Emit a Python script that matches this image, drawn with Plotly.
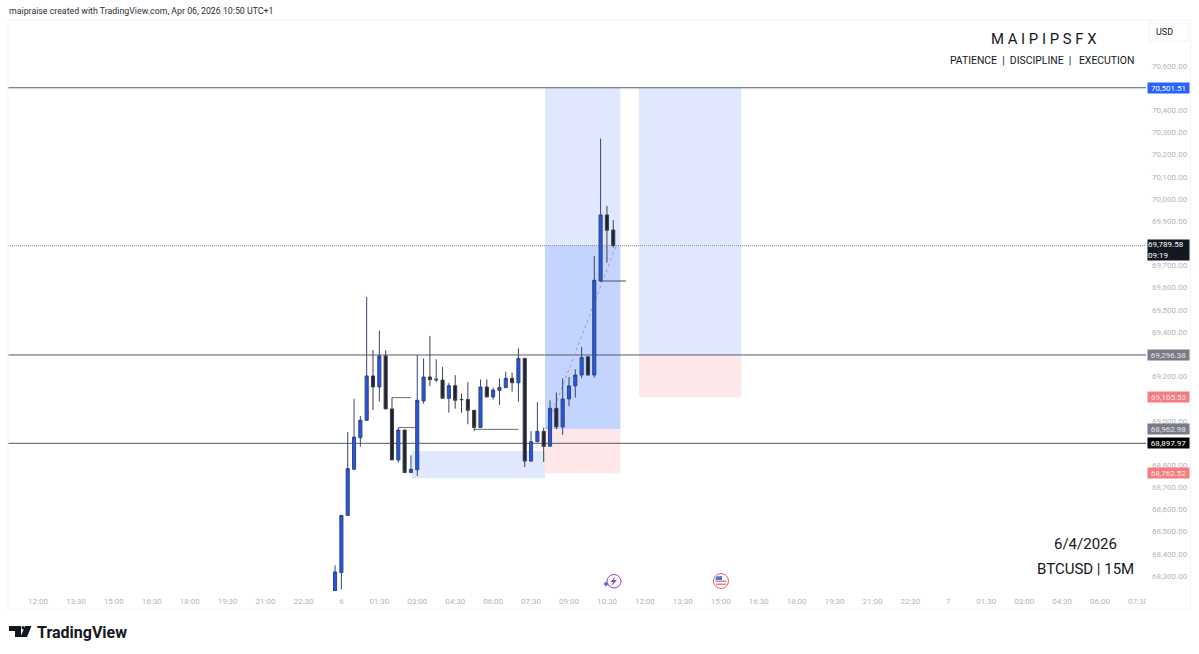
import plotly.graph_objects as go
import pandas as pd

W, H = 1199, 654
# plot pane in page pixels
PL, PR, PT, PB = 8, 1146, 22, 591

candle_times = pd.date_range("2026-04-05 23:45", periods=45, freq="15min")
opens = [68232, 68315, 68573, 68781, 68923, 69002, 69202, 69152, 69292, 69053, 68823, 68958, 68766, 68779, 69089,
         69197, 69183, 69183, 69101, 69158, 69096, 69096, 69047, 68969, 69152, 69107, 69137, 69149, 69191, 69171,
         69281, 68818, 68905, 68952, 68885, 69056, 68972, 69098, 69157, 69206, 69288, 69206, 69630, 69928, 69860]
highs = [68348, 68573, 68949, 69099, 69021, 69558, 69319, 69407, 69317, 69104, 68969, 68958, 68844, 69296, 69281,
         69382, 69277, 69242, 69171, 69205, 69122, 69174, 69048, 69186, 69186, 69149, 69191, 69221, 69217, 69326,
         69281, 68953, 69084, 68969, 69092, 69127, 69191, 69197, 69232, 69333, 69292, 69743, 70272, 69969, 69904]
lows = [68232, 68240, 68573, 68776, 68883, 68999, 69048, 69086, 69053, 68823, 68811, 68766, 68766, 68751, 69077,
        69156, 69174, 69101, 69036, 69054, 69036, 68984, 68953, 68969, 69107, 69096, 69071, 69149, 69131, 69086,
        68791, 68815, 68905, 68814, 68885, 68961, 68936, 69065, 69104, 69191, 69203, 69194, 69627, 69713, 69781]
closes = [68318, 68573, 68784, 68926, 69002, 69202, 69152, 69292, 69053, 68823, 68958, 68766, 68781, 69092, 69197,
          69185, 69187, 69101, 69158, 69092, 69095, 69047, 68969, 69152, 69107, 69138, 69150, 69191, 69171, 69281,
          68818, 68905, 68952, 68884, 69056, 68972, 69098, 69157, 69206, 69285, 69206, 69633, 69928, 69859, 69789.58]

# the ticks hidden behind price tags in the reference are left out
price_ticks = [68300, 68400, 68500, 68600, 68700, 68800, 69000, 69200, 69400, 69500, 69600, 69700, 69900, 70000,
               70100, 70200, 70300, 70400, 70600]
time_ticks = ["2026-04-05 12:00", "2026-04-05 13:30", "2026-04-05 15:00", "2026-04-05 16:30", "2026-04-05 18:00",
              "2026-04-05 19:30", "2026-04-05 21:00", "2026-04-05 22:30", "2026-04-06 00:00", "2026-04-06 01:30",
              "2026-04-06 03:00", "2026-04-06 04:30", "2026-04-06 06:00", "2026-04-06 07:30", "2026-04-06 09:00",
              "2026-04-06 10:30", "2026-04-06 12:00", "2026-04-06 13:30", "2026-04-06 15:00", "2026-04-06 16:30",
              "2026-04-06 18:00", "2026-04-06 19:30", "2026-04-06 21:00", "2026-04-06 22:30", "2026-04-07 00:00",
              "2026-04-07 01:30", "2026-04-07 03:00", "2026-04-07 04:30", "2026-04-07 06:00", "2026-04-07 07:30"]
time_labels = ["12:00", "13:30", "15:00", "16:30", "18:00", "19:30", "21:00", "22:30", "6", "01:30", "03:00", "04:30",
               "06:00", "07:30", "09:00", "10:30", "12:00", "13:30", "15:00", "16:30", "18:00", "19:30", "21:00",
               "22:30", "7", "01:30", "03:00", "04:30", "06:00", "07:30"]

# drawn levels
top_level = 70501.51
mid_level = 69296.38
low_level = 68897.97
last_price = 69789.58
entry_1 = 68962.98
stop_1 = 68762.52
stop_2 = 69105.53

# price labels on the axis: value, text colour, background
axis_tags = [(70501.51, "#ffffff", "#2962ff"), (69296.38, "#e6e6ea", "#787b86"), (69105.53, "#fde8e8", "#f77c80"),
             (68962.98, "#e6e6ea", "#787b86"), (68897.97, "#ffffff", "#000000"), (68762.52, "#fde8e8", "#f77c80")]


def px(x):
    return (x - PL) / (PR - PL)


def py(y):
    return (PB - y) / (PB - PT)


fig = go.Figure()
fig.add_trace(go.Candlestick(
    x=candle_times, open=opens, high=highs, low=lows, close=closes,
    increasing=dict(fillcolor="#2257e6", line=dict(color="#34457c", width=1)),
    decreasing=dict(fillcolor="#1f222d", line=dict(color="#3c404c", width=1)),
    whiskerwidth=0, hoverinfo="skip", showlegend=False))

blue = "rgba(41,98,255,0.15)"
pink = "rgba(242,54,69,0.12)"
shapes = []


def box(x0, x1, y0, y1, color):
    shapes.append(dict(type="rect", layer="below", xref="x", yref="y", x0=x0, x1=x1, y0=y0, y1=y1,
                       fillcolor=color, line_width=0))


def seg(x0, x1, y0, y1, color="#555a66", dash="solid", width=1):
    shapes.append(dict(type="line", layer="below", xref="x", yref="y", x0=x0, x1=x1, y0=y0, y1=y1,
                       line=dict(color=color, width=width, dash=dash)))


# position tools
box("2026-04-06 08:03", "2026-04-06 11:02", entry_1, top_level, blue)
box("2026-04-06 08:03", "2026-04-06 11:02", entry_1, last_price, blue)
box("2026-04-06 08:03", "2026-04-06 11:02", stop_1, entry_1, pink)
box("2026-04-06 11:46", "2026-04-06 15:49", mid_level, top_level, blue)
box("2026-04-06 11:46", "2026-04-06 15:49", stop_2, mid_level, pink)
# imbalance box
box("2026-04-06 02:47", "2026-04-06 08:03", 68740, 68863, blue)

# full width levels
for lvl in [top_level, mid_level, low_level]:
    seg("2026-04-05 10:49", "2026-04-07 07:49", lvl, lvl)
seg("2026-04-05 10:49", "2026-04-07 07:49", last_price, last_price, color="#8f929c", dash="1px,1px")

# short swing lines
seg("2026-04-06 02:00", "2026-04-06 02:45", 69104, 69104, color="#6a6d78")
seg("2026-04-06 02:15", "2026-04-06 03:00", 68969, 68969, color="#6a6d78")
seg("2026-04-06 05:15", "2026-04-06 07:00", 68961, 68961, color="#6a6d78")
seg("2026-04-06 10:15", "2026-04-06 11:15", 69630, 69630, color="#50535e")
seg("2026-04-06 08:06", "2026-04-06 10:52", 68963, last_price, color="#9a9fae", dash="3px,3px")


def page_rect(x0, y0, x1, y1, fill, line=None, kind="rect"):
    shapes.append(dict(type=kind, layer="above", xref="paper", yref="paper", x0=px(x0), x1=px(x1), y0=py(y1), y1=py(y0),
                       fillcolor=fill, line=dict(color=line or fill, width=1 if line else 0)))


def page_path(points, fill):
    d = "M" + " L".join(f"{px(x):.5f},{py(y):.5f}" for x, y in points) + " Z"
    shapes.append(dict(type="path", layer="above", xref="paper", yref="paper", path=d, fillcolor=fill, line_width=0))


# hide the clipped part of the last time label, frame, USD box
page_rect(1146, 592, 1189, 608, "#ffffff")
page_rect(8, 20, 1190.5, 609, "rgba(0,0,0,0)", "#f0f3fa")
page_rect(1149, 23, 1188, 41, "#ffffff", "#f0f3fa")

# TradingView logo
page_path([(9, 626), (21, 626), (21, 637), (15, 637), (15, 631), (9, 631)], "#131722")
page_path([(25, 626), (31.5, 626), (27, 637), (20.5, 637)], "#131722")
page_rect(21.5, 626, 24.5, 629.5, "#131722", kind="circle")

# event icons
page_rect(607, 574.5, 621, 588, "#ffffff", "#8e44c9", kind="circle")
page_path([(615.5, 576.5), (610.5, 582), (613, 582), (611.5, 586), (617, 580), (614, 580)], "#8e44c9")
page_path([(606, 581), (607, 583), (609, 584), (607, 585), (606, 587), (605, 585), (603, 584), (605, 583)], "#5b5fe0")
page_rect(713.5, 573.5, 728.5, 588.5, "#ffffff", "#e5606a", kind="circle")
page_rect(715.5, 580.5, 726.5, 582, "#e5808a")
page_rect(716, 583.5, 726, 585, "#e5808a")
page_path([(716, 576.5), (722, 576), (722, 580), (715.5, 580)], "#4a78c8")

ann = []


def text(x, y, s, size, color="#131722", anchor="center"):
    ann.append(dict(xref="paper", yref="paper", x=px(x), y=py(y), text=s, showarrow=False, xanchor=anchor,
                    yanchor="middle", font=dict(size=size, color=color, family="Roboto")))


text(7, 11, "maipraise created with TradingView.com, Apr 06, 2026 10:50 UTC+1", 8.8, "#2a2e39", "left")
text(1043.5, 39, "M A I P I P S F X", 14.9)
text(1042, 60.5, "PATIENCE  |  DISCIPLINE  |   EXECUTION", 10.4)
text(1085, 544, "6/4/2026", 15)
text(1085, 569, "BTCUSD | 15M", 15)
text(1164, 32, "USD", 9)
text(35, 632, "<b>TradingView</b>", 16, "#131722", "left")

for value, fg, bg in axis_tags:
    ann.append(dict(xref="paper", yref="y", x=1, xshift=1, y=value, xanchor="left", yanchor="middle", width=41, height=10,
                    text=f"{value:,.2f}", showarrow=False, bgcolor=bg, borderpad=0, align="center",
                    font=dict(size=8, color=fg, family="Roboto")))
ann.append(dict(xref="paper", yref="y", x=1, xshift=1, y=last_price, yshift=-4, xanchor="left", yanchor="middle", width=41,
                height=20, text=f"{last_price:,.2f}<br>09:19", showarrow=False, bgcolor="#131722", borderpad=0, align="left",
                font=dict(size=8, color="#ffffff", family="Roboto")))

fig.update_layout(
    width=W, height=H, autosize=False,
    margin=dict(l=PL, r=W - PR, t=PT, b=H - PB, pad=0),
    paper_bgcolor="#ffffff", plot_bgcolor="#ffffff",
    shapes=shapes, annotations=ann,
    font=dict(family="Roboto"),
    xaxis=dict(range=["2026-04-05 10:49", "2026-04-07 07:49"], rangeslider_visible=False, showgrid=False, zeroline=False,
               tickmode="array", tickvals=time_ticks, ticktext=time_labels, ticks="", ticklabelstandoff=4,
               tickfont=dict(size=8, color="#b2b5be"), showline=False),
    yaxis=dict(range=[68232, 70798], side="right", showgrid=False, zeroline=False, tickmode="array",
               tickvals=price_ticks, ticktext=[f"{p:,.2f}" for p in price_ticks], ticks="", ticklabelstandoff=5,
               tickfont=dict(size=8, color="#b2b5be"), showline=False),
)

fig.write_html("out.html", config=dict(displayModeBar=False), post_script="document.body.style.margin='0';")
